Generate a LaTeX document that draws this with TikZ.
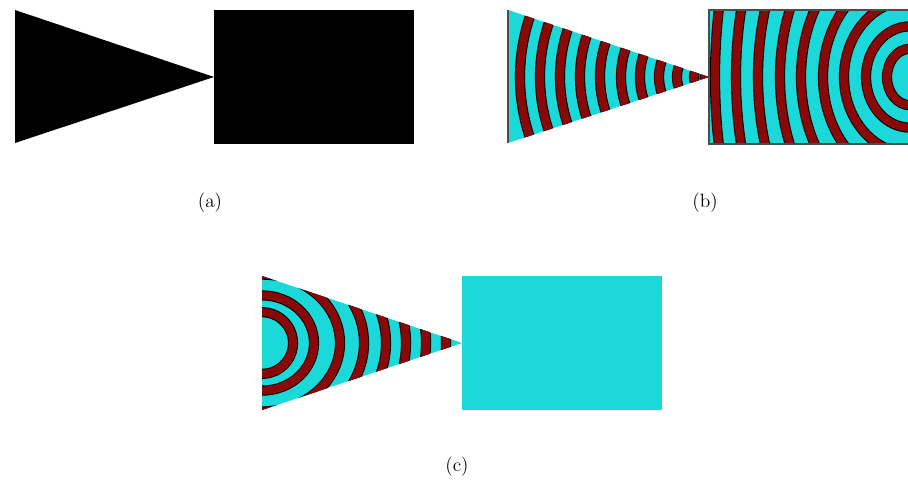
\documentclass[tikz,border=0pt]{standalone}
\usepackage{tikz}
\definecolor{WaveCyan}{HTML}{1CD9D9}
\definecolor{WaveRed}{HTML}{8A0808}

\tikzset{
  bandedge/.style={draw=black, line width=5.8pt},
  bandcore/.style={draw=WaveRed, line width=4.6pt},
  caption/.style={font=\fontsize{11}{13}\selectfont}
}

\begin{document}
\begin{tikzpicture}[x=0.02cm, y=-0.02cm]
    \useasboundingbox (0,0) rectangle (908,480);

    % (a) Geometrie
    \fill[black] (15,10) -- (214,77) -- (15,143) -- cycle;
    \fill[black] (214,10) rectangle (414,144);

    % (b) Trichter
    \begin{scope}
      \clip (508,10) -- (709,77) -- (508,143) -- cycle;
      \fill[WaveCyan] (508,10) rectangle (709,143);
      \foreach \r in {4,15,32,50,69,88,109,129,149,169,189} {
        \draw[bandedge] (709,77) circle[radius=\r];
        \draw[bandcore] (709,77) circle[radius=\r];
      }
    \end{scope}
    \draw[black!70, line width=0.6pt] (508,10) -- (508,143);

    % (b) Rechteck
    \begin{scope}
      \clip (709,10) rectangle (908,144);
      \fill[WaveCyan] (709,10) rectangle (908,144);
      \foreach \a in {23,44,66,87,109,130,152,174,195} {
        \draw[bandedge] (910,77) ellipse[x radius=\a, y radius={\a+5+19*(\a/100)^3}];
        \draw[bandcore] (910,77) ellipse[x radius=\a, y radius={\a+5+19*(\a/100)^3}];
      }
    \end{scope}
    \draw[black!70, line width=0.6pt] (908,10) -- (709,10) -- (709,144) -- (908,144);

    % (c) Trichter
    \begin{scope}
      \clip (262,276) -- (462,343) -- (262,410) -- cycle;
      \fill[WaveCyan] (262,276) rectangle (462,410);
      \foreach \a in {31,52,78,102,124,144,164,184} {
        \draw[bandedge] (262,343) ellipse[x radius=\a, y radius={0.8*\a+6}];
        \draw[bandcore] (262,343) ellipse[x radius=\a, y radius={0.8*\a+6}];
      }
    \end{scope}

    % (c) Rechteck
    \fill[WaveCyan] (462,276) rectangle (662,410);

    % Beschriftungen
    \node[caption] (capa) at (210,203) {(a)};
    \node[caption] (capb) at (705,203) {(b)};
    \node[caption] (capc) at (457,467) {(c)};
\end{tikzpicture}
\end{document}
